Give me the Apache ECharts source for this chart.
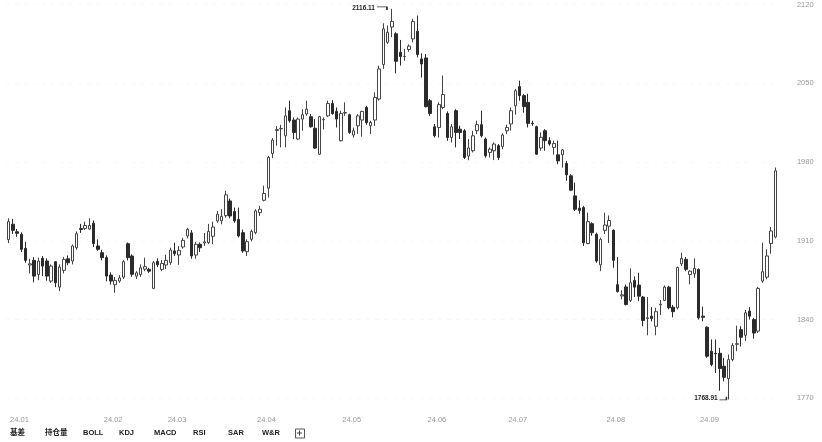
<!DOCTYPE html>
<html><head><meta charset="utf-8">
<script src="https://cdn.jsdelivr.net/npm/echarts@6/dist/echarts.min.js"></script>
<style>html,body{margin:0;padding:0;background:#fff}#c{width:822px;height:442px}</style>
</head><body><div id="c"></div>
<script>
// ---- data ----
const months = ['24.01','24.02','24.03','24.04','24.05','24.06','24.07','24.08','24.09'];
const tradingDays = [
  [2,3,4,5,8,9,10,11,12,15,16,17,18,19,22,23,24,25,26,29,30,31],
  [1,2,5,6,7,8,19,20,21,22,23,26,27,28,29],
  [1,4,5,6,7,8,11,12,13,14,15,18,19,20,21,22,25,26,27,28,29],
  [1,2,3,8,9,10,11,12,15,16,17,18,19,22,23,24,25,26,29,30],
  [6,7,8,9,10,13,14,15,16,17,20,21,22,23,24,27,28,29,30,31],
  [3,4,5,6,7,11,12,13,14,17,18,19,20,21,24,25,26,27,28],
  [1,2,3,4,5,8,9,10,11,12,15,16,17,18,19,22,23,24,25,26,29,30,31],
  [1,2,5,6,7,8,9,12,13,14,15,16,19,20,21,22,23,26,27,28,29,30],
  [2,3,4,5,6,9,10,11,12,13,18,19,20,23,24,25,26,27,30]
];
const opens = [1911,1924.7,1918,1915.8,1903.3,1888.5,1892.6,1880,1894.4,1892,1874.2,1891.4,1868.8,1883.7,1894,1892,1903.8,1921,1921,1920.4,1925.6,1905.4,
1899.4,1895,1879.5,1871,1874.2,1877.7,1907.4,1896.5,1878.6,1880,1884.8,1884.6,1867.7,1891.7,1884.6,
1888.5,1890.5,1901,1897.4,1904.5,1914.3,1917,1897.3,1906.9,1908,1908.5,1914,1927.6,1927.7,1932.3,1945.4,1936,1929,1917.2,1900.3,1911.3,
1917.2,1935,1946,1956.8,1987.6,2008,2009.5,2003.3,2025.6,2017.3,2000.4,2018.2,2022.7,2020.3,2010,1987,2017.5,2021,2032,2025,
1998.9,2023.5,2022,2004,2012.2,2017.3,2028.5,2012.2,2017.3,2036,2066.6,2086.4,2100,2094,2077.5,2073.7,2080,2089.4,2096.2,2071.6,
2072.5,2034.5,2011.3,2010.7,2028.5,2023.2,2001.8,2025.6,2009.2,2007.8,1985.3,1990,2007.8,2013.2,2000.4,1988.5,1990,1994.5,1993.8,
2007.8,2013.8,2030,2047,2039,2033,2014.5,2011.3,1992.4,2007.8,1999,1993,1986.4,1986.4,1978.7,1967.7,1949.9,1939,1939.5,1907.5,1925.2,1915.8,1888.6,
1919.3,1923,1919.3,1871,1861,1869,1857,1874.8,1870.6,1860,1841,1843,1834,1853,1857,1868.8,1851,1850.5,1889.6,1893.5,1880,1880.7,
1884.6,1843,1833.2,1811.8,1810,1810,1798.5,1787.5,1804.4,1818,1831,1826,1847.5,1840,1829.7,1874.2,1877.7,1907.5,1913.4];
const closes = [1927,1919.3,1916.6,1902.4,1892.6,1889.5,1878.6,1892,1887.5,1878.6,1887.5,1872.7,1886.7,1893.5,1890.5,1905.4,1916.3,1920,1923.5,1923.6,1907.5,1902.4,
1895,1878.6,1874.2,1874.8,1877,1891.4,1895,1880.2,1881.5,1886,1887,1883,1890.5,1888.6,1889.8,
1892.6,1901.8,1898.5,1901.5,1910.4,1920.2,1896.5,1906.9,1903.8,1909,1918.3,1922.2,1933.6,1931.7,1950.8,1932,1927.6,1914.3,1901,1909.2,1918.3,
1936.6,1938,1952,1984,1999.5,2008.8,2009.8,2021,2016.7,2006.3,2018.2,2022,2027,2011.3,1992.4,2020.3,2018,2032,2023,2018.2,
2023.2,2024,2006.3,2007.8,2021,2025,2015,2015.2,2037.4,2062.7,2098.3,2095.3,2105,2069.5,2073.7,2073.9,2083,2105,2075.5,2067.2,
2029.2,2023.2,2003.3,2031,2040,2001.8,2011.3,2006.3,2006.3,1984,1992.5,2003.3,2013.2,2003.3,1985.5,1991.5,1996,1984,2004,
2010.7,2025.6,2043.4,2039,2029.2,2014.3,2014,1987,2002,1999,1996,1996.5,1981,1990.8,1968.6,1955,1938,1937,1908.3,1927,1917.2,1892,1911.3,
1924,1928,1892.6,1865,1862,1853.4,1872.7,1868.8,1860.8,1839.2,1841.5,1841,1847,1853.6,1868.8,1850.5,1847,1886.3,1894.4,1884.6,1883,1885.5,
1841.5,1842,1807.4,1800,1809.5,1796.4,1788.7,1804.4,1817,1818.5,1824.3,1846,1843,1828,1867.7,1882.5,1896.5,1918.7,1972.2];
const lows = [1908,1916,1913.5,1900,1890.5,1881,1873,1875,1878.6,1874.5,1872.6,1868.8,1865.3,1881,1888.3,1889,1902,1917,1919.5,1920,1904.5,1901,
1892.6,1874,1871,1863.8,1872.6,1876,1892.6,1878,1876,1878,1883,1881.5,1867,1886.7,1883,
1885,1888.6,1896.5,1888.6,1903,1912,1894,1894,1900,1905.4,1907,1907,1926,1924.6,1930.5,1930,1926,1913,1899.4,1896.5,1909.5,
1915.8,1932,1945,1948.4,1983.5,1994.5,1993,1993,2015,2000.4,1999.5,2007.8,2021,2010.5,1991.5,1986.4,2009,2020,2022,2010.7,
1998.3,2021,2005,2001.8,2005,2002.5,2013,2004.8,2012,2034.5,2062.7,2085,2091,2058.8,2065.7,2070,2078,2086.4,2073,2055,
2028.5,2021,2001.8,2001.8,2027,1998.9,1997.4,1993,2000.4,1982.6,1981.6,1988.5,2004.8,2001.8,1983.8,1984,1981.7,1981.7,1991.4,
2004.8,2007.8,2022,2034.5,2023.8,2010.7,2012.2,1986.4,1990,1990,1994.5,1986.6,1978,1975,1963.3,1954.4,1936.5,1934,1905.4,1907,1914.5,1890.5,1883,
1916,1908,1886,1863.8,1858,1852.5,1855.7,1860,1856.4,1834,1826,1838.4,1826,1844,1856.5,1849,1842,1849,1887.5,1883,1871.3,1877,
1840,1838.5,1806,1798.5,1792.5,1776.8,1785,1768.91,1803,1811.8,1816,1821,1840,1823,1828,1872.6,1875.7,1898.5,1912.2];
const highs = [1930,1929.4,1920.5,1917.5,1909,1894,1895.5,1895,1896.5,1894.4,1889,1892,1889,1895.7,1897,1906.7,1918.3,1925,1927,1930,1928,1911.3,
1902,1897,1882,1877.8,1879.5,1893,1908.5,1898,1883,1889,1895,1886,1892,1894.4,1893,
1897.6,1903.8,1908.3,1905.4,1912.6,1921.5,1919.5,1909,1908.5,1917,1925,1927,1936.5,1938,1954.4,1947.5,1939.5,1939.5,1920,1911.3,1920,
1938,1941,1959,1985.5,2001.3,2012,2013,2028.5,2034.5,2019.6,2019.6,2027,2034.5,2022.7,2018.2,2021,2019.6,2034.5,2035,2028.5,
2025.6,2033,2023,2010.7,2022.7,2025.6,2030,2016.7,2042,2065.7,2103.3,2101.3,2116.11,2095.3,2088.5,2080.5,2084.6,2107.3,2110.2,2076.6,
2076,2036,2013.8,2033,2056.8,2025,2013.8,2027,2012.3,2009.2,2000.4,2007.8,2016.7,2025.6,2001.8,1993,1997.4,1996,2005.5,
2013.2,2028.5,2045,2052.3,2040.4,2040.7,2016.7,2012.3,2006.3,2009.2,2002,1999,1999,1991.6,1981,1969.2,1961.7,1946,1941,1935,1926.5,1917.2,1912.8,
1935,1932.5,1920.2,1895.5,1866,1871,1885.5,1878.3,1881.6,1861,1860,1851,1850.5,1857.3,1870.3,1870,1853,1887,1899.4,1895.5,1883.7,1894.4,
1885.5,1851.5,1834,1822.3,1822.3,1814.8,1806,1808.9,1819,1834.6,1834,1848.5,1851,1841.5,1869,1908.3,1902.4,1922.3,1975.1];
const yTicks = [1770, 1840, 1910, 1980, 2050, 2120];
const toolbarItems = ['基差','持仓量','BOLL','KDJ','MACD','RSI','SAR','W&R'];

// ---- build ----
const dates = [];
months.forEach((m, k) => tradingDays[k].forEach(d => dates.push(m + '.' + String(d).padStart(2, '0'))));
const kdata = opens.map((o, i) => [o, closes[i], lows[i], highs[i]]);
let maxI = 0, minI = 0;
highs.forEach((h, i) => { if (h > highs[maxI]) maxI = i; });
lows.forEach((l, i) => { if (l < lows[minI]) minI = i; });
const yMin = yTicks[0], yMax = yTicks[yTicks.length - 1];

const FONT = 'Liberation Sans, Noto Sans CJK SC, sans-serif';
const toolbarX = [10, 45, 83, 119, 154, 193, 228, 262];
const graphics = toolbarItems.map((t, i) => ({
  type: 'text', left: toolbarX[i], top: 429,
  style: { text: t, fill: '#222', font: 'bold 7.5px ' + FONT }
}));
graphics.push({ type: 'rect', left: 295, top: 428.5, shape: { width: 9, height: 9 }, style: { fill: '#fff', stroke: '#555', lineWidth: 1 } });
graphics.push({ type: 'line', shape: { x1: 299.5, y1: 430.5, x2: 299.5, y2: 435.5 }, style: { stroke: '#444', lineWidth: 1 } });
graphics.push({ type: 'line', shape: { x1: 297, y1: 433, x2: 302, y2: 433 }, style: { stroke: '#444', lineWidth: 1 } });

const markLabel = { show: true, position: 'left', distance: 1, formatter: p => p.value, color: '#222', fontSize: 6.5, fontWeight: 'bold', fontFamily: FONT };

const chart = echarts.init(document.getElementById('c'), null, { renderer: 'canvas' });
chart.setOption({
  animation: false,
  backgroundColor: '#fff',
  grid: { left: 6.4, right: 44.6, top: 4.5, height: 393.8 },
  xAxis: {
    type: 'category', data: dates, boundaryGap: true,
    axisLine: { show: false }, axisTick: { show: false },
    axisLabel: {
      color: '#999', fontSize: 7.5, fontFamily: FONT, align: 'left', margin: 18, padding: [0, 0, 0, 1.5],
      interval: (idx, val) => idx === 0 || val.slice(0, 5) !== dates[idx - 1].slice(0, 5),
      formatter: v => v.slice(0, 5)
    },
    splitLine: { show: false }
  },
  yAxis: {
    type: 'value', position: 'right', min: yMin, max: yMax, interval: 70,
    axisLine: { show: false }, axisTick: { show: false },
    axisLabel: { color: '#999', fontSize: 7.5, fontFamily: FONT, margin: 19.5, formatter: v => String(v) },
    splitLine: { show: true, lineStyle: { color: '#f6f6f6', type: [3, 6] } }
  },
  series: [{
    type: 'candlestick', data: kdata, barWidth: 3, clip: false,
    itemStyle: { color: '#fff', color0: '#2b2b2b', borderColor: '#444', borderColor0: '#2b2b2b', borderWidth: 1 },
    markPoint: {
      silent: true,
      data: [
        { coord: [maxI, Math.min(highs[maxI], yMax)], value: highs[maxI].toFixed(2),
          symbol: 'path://M0,0H10V3', symbolSize: [10, 3], symbolKeepAspect: false, symbolOffset: [-10, -0.5],
          itemStyle: { color: 'rgba(0,0,0,0)', borderColor: '#333', borderWidth: 1 },
          label: markLabel },
        { coord: [minI, Math.max(lows[minI], yMin)], value: lows[minI].toFixed(2),
          symbol: 'path://M0,3H7V0', symbolSize: [7, 3], symbolKeepAspect: false, symbolOffset: [-5.5, 0],
          itemStyle: { color: 'rgba(0,0,0,0)', borderColor: '#333', borderWidth: 1 },
          label: markLabel }
      ]
    }
  }],
  graphic: graphics
});
</script></body></html>
